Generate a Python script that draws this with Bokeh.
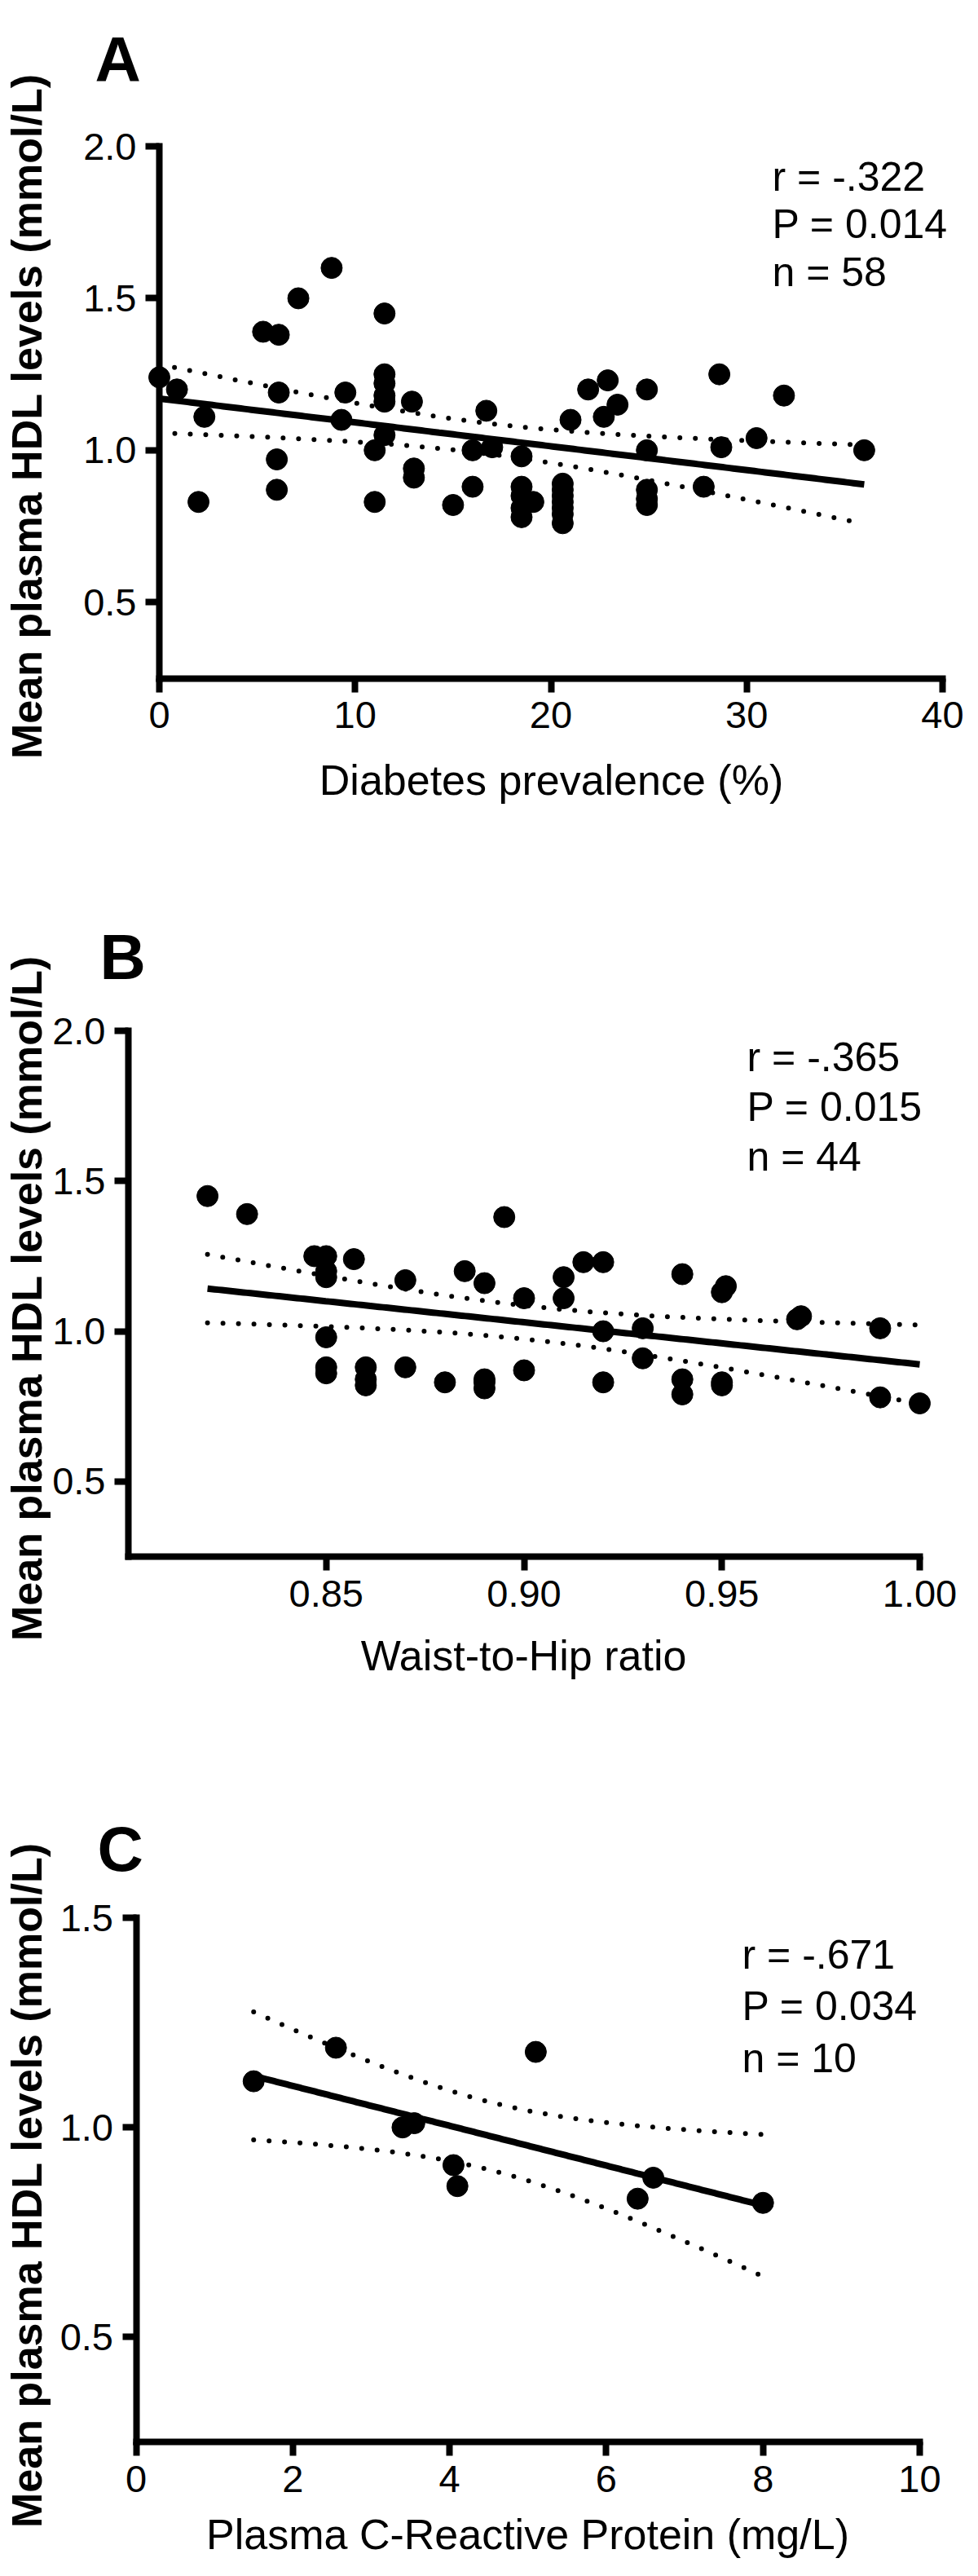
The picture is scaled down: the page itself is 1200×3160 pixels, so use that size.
import numpy as np
from bokeh.plotting import figure
from bokeh.layouts import column
from bokeh.models import Range1d, FixedTicker, PrintfTickFormatter, Label
from bokeh.embed import file_html
from bokeh.resources import INLINE

FONT = "Liberation Sans"

# ---------------- data ----------------
# Panel A: diabetes prevalence (%) vs HDL
a_x = [0.0, 0.9, 2.0, 2.3, 5.3, 6.1, 6.1, 6.0, 6.0, 7.1, 8.8, 9.3, 9.5,
       11.0, 11.0, 11.5, 11.5, 11.5, 11.5, 11.5, 11.5, 12.9, 13.0, 13.0,
       15.0, 16.0, 16.0, 16.7, 17.0, 18.5, 18.5, 18.5, 18.5, 18.5, 19.1,
       20.6, 20.6, 20.6, 20.6, 20.6, 20.6, 20.6, 21.0, 21.9, 22.7, 22.9,
       23.4, 24.9, 24.9, 24.9, 24.9, 24.9, 27.8, 28.6, 28.7, 30.5, 31.9, 36.0]
a_y = [1.24, 1.20, 0.83, 1.11, 1.39, 1.38, 1.19, 0.97, 0.87, 1.50, 1.60,
       1.10, 1.19, 1.00, 0.83, 1.45, 1.25, 1.22, 1.18, 1.16, 1.05, 1.16,
       0.94, 0.91, 0.82, 1.00, 0.88, 1.13, 1.01, 0.98, 0.88, 0.85, 0.81,
       0.78, 0.83, 0.89, 0.87, 0.85, 0.83, 0.81, 0.79, 0.76, 1.10, 1.20,
       1.11, 1.23, 1.15, 1.20, 1.00, 0.87, 0.84, 0.82, 0.88, 1.25, 1.01,
       1.04, 1.18, 1.00]

# Panel B: waist-to-hip ratio vs HDL
b_x = [0.82, 0.83, 0.847, 0.85, 0.85, 0.85, 0.85, 0.85, 0.85, 0.857, 0.86,
       0.86, 0.86, 0.87, 0.87, 0.88, 0.885, 0.89, 0.89, 0.89, 0.89, 0.895,
       0.90, 0.90, 0.91, 0.91, 0.915, 0.92, 0.92, 0.92, 0.93, 0.93, 0.94,
       0.94, 0.94, 0.95, 0.951, 0.95, 0.95, 0.969, 0.97, 0.99, 0.99, 1.00]
b_y = [1.45, 1.39, 1.25, 1.25, 1.18, 1.20, 0.98, 0.88, 0.86, 1.24, 0.88,
       0.82, 0.84, 1.17, 0.88, 0.83, 1.20, 1.16, 0.84, 0.81, 0.83, 1.38,
       1.11, 0.87, 1.18, 1.11, 1.23, 1.23, 1.00, 0.83, 1.01, 0.91, 1.19,
       0.84, 0.79, 1.13, 1.15, 0.82, 0.83, 1.04, 1.05, 1.01, 0.78, 0.76]

# Panel C: plasma CRP vs HDL
c_x = [1.5, 2.55, 3.4, 3.55, 4.05, 4.1, 5.1, 6.4, 6.6, 8.0]
c_y = [1.11, 1.19, 1.00, 1.01, 0.91, 0.86, 1.18, 0.83, 0.88, 0.82]

# axes / ticks / texts
a_xbounds = (0, 40)
b_xbounds = (0.80, 1.00)
c_xbounds = (0, 10)
ab_ybounds = (0.25, 2.0)
c_ybounds = (0.25, 1.5)

a_xticks = [0, 10, 20, 30, 40]
b_xticks = [0.85, 0.90, 0.95, 1.00]
c_xticks = [0, 2, 4, 6, 8, 10]
ab_yticks = [0.5, 1.0, 1.5, 2.0]
c_yticks = [0.5, 1.0, 1.5]

y_title = "Mean plasma HDL levels (mmol/L)"
a_xtitle = "Diabetes prevalence (%)"
b_xtitle = "Waist-to-Hip ratio"
c_xtitle = "Plasma C-Reactive Protein (mg/L)"

a_stats = ["r = -.322", "P = 0.014", "n = 58"]
b_stats = ["r = -.365", "P = 0.015", "n = 44"]
c_stats = ["r = -.671", "P = 0.034", "n = 10"]

# two-sided 95% t critical values by degrees of freedom
t_crit = {56: 2.0032, 42: 2.0181, 8: 2.3060}


def fit_band(x, y):
    x = np.asarray(x, float)
    y = np.asarray(y, float)
    n = len(x)
    slope, intercept = np.polyfit(x, y, 1)
    xs = np.linspace(x.min(), x.max(), 200)
    yh = intercept + slope * xs
    res = y - (intercept + slope * x)
    s = np.sqrt((res ** 2).sum() / (n - 2))
    sxx = ((x - x.mean()) ** 2).sum()
    half = t_crit[n - 2] * s * np.sqrt(1.0 / n + (xs - x.mean()) ** 2 / sxx)
    return xs, yh, yh - half, yh + half


def mapper(d0, d1, p0, p1):
    k = (d1 - d0) / (p1 - p0)
    return lambda px: d0 + (px - p0) * k


PAGE_L, PAGE_R = 8, 1192


def panel(x, y, xb, yb, xticks, yticks, xfmt, xtitle, stats, letter, L):
    # L: layout in page pixels
    fx = mapper(xb[0], xb[1], L["x0"], L["x1"])
    fy = mapper(yb[1], yb[0], L["ytop"], L["ybot"])
    p = figure(width=PAGE_R - PAGE_L, height=L["cb"] - L["ct"],
               x_range=Range1d(fx(PAGE_L), fx(PAGE_R)),
               y_range=Range1d(fy(L["cb"]), fy(L["ct"])),
               output_backend="svg", toolbar_location=None,
               min_border=0, min_border_left=0, min_border_right=0,
               min_border_top=0, min_border_bottom=0)
    p.outline_line_color = None
    p.grid.visible = False
    p.background_fill_color = "white"
    p.border_fill_color = "white"

    for ax in (p.xaxis[0], p.yaxis[0]):
        ax.axis_line_width = 8
        ax.axis_line_color = "black"
        ax.axis_line_cap = "square"
        ax.major_tick_line_width = 8
        ax.major_tick_line_color = "black"
        ax.major_tick_out = 17
        ax.major_tick_in = 0
        ax.minor_tick_out = 0
        ax.minor_tick_in = 0
        ax.major_label_text_font = FONT
        ax.major_label_text_font_size = "47px"
        ax.major_label_text_color = "black"

    xa, ya = p.xaxis[0], p.yaxis[0]
    xa.fixed_location = yb[0]
    xa.bounds = xb
    xa.ticker = FixedTicker(ticks=xticks)
    xa.formatter = PrintfTickFormatter(format=xfmt)
    xa.major_label_standoff = 12
    ya.fixed_location = xb[0]
    ya.bounds = yb
    ya.ticker = FixedTicker(ticks=yticks)
    ya.formatter = PrintfTickFormatter(format="%.1f")
    ya.major_label_standoff = 11

    xs, yh, lo, hi = fit_band(x, y)
    p.line(xs, hi, line_color="black", line_width=6, line_dash="0 19",
           line_cap="round")
    p.line(xs, lo, line_color="black", line_width=6, line_dash="0 19",
           line_cap="round")
    p.line(xs, yh, line_color="black", line_width=8)
    p.scatter(x, y, size=26, marker="circle", fill_color="black",
              line_color="black")

    for i, t in enumerate(stats):
        p.add_layout(Label(x=fx(L["sx"]), y=fy(L["sy"][i]), text=t,
                           text_font=FONT, text_font_size="50px",
                           text_color="black", text_baseline="middle",
                           text_align="left"))
    p.add_layout(Label(x=fx(L["lx"]), y=fy(L["ly"]), text=letter,
                       text_font=FONT, text_font_size="78px",
                       text_font_style="bold", text_color="black",
                       text_baseline="alphabetic", text_align="left"))
    p.add_layout(Label(x=fx(L["xtx"]), y=fy(L["xty"]), text=xtitle,
                       text_font=FONT, text_font_size="52px",
                       text_color="black", text_baseline="middle",
                       text_align="center"))
    p.add_layout(Label(x=fx(L["ytx"]), y=fy(L["yty"]), text=y_title,
                       angle=np.pi / 2, text_font=FONT,
                       text_font_size="52px", text_font_style="bold",
                       text_color="black", text_baseline="middle",
                       text_align="center"))
    return p


LA = dict(ct=8, cb=1080, x0=203, x1=1164, ytop=187, ybot=839.5,
          sx=955, sy=[224, 282, 341], lx=124, ly=80,
          xtx=684, xty=964, ytx=40, yty=518)
LB = dict(ct=1080, cb=2120, x0=165, x1=1136, ytop=1272, ybot=1917,
          sx=924, sy=[1304, 1365, 1426], lx=130, ly=1181,
          xtx=650, xty=2038, ytx=40, yty=1600)
LC = dict(ct=2120, cb=3152, x0=174.5, x1=1136, ytop=2360, ybot=3003,
          sx=918, sy=[2405, 2468, 2532], lx=127, ly=2275,
          xtx=655, xty=3116, ytx=40, yty=2688)

pa = panel(a_x, a_y, a_xbounds, ab_ybounds, a_xticks, ab_yticks, "%d",
           a_xtitle, a_stats, "A", LA)
pb = panel(b_x, b_y, b_xbounds, ab_ybounds, b_xticks, ab_yticks, "%.2f",
           b_xtitle, b_stats, "B", LB)
pc = panel(c_x, c_y, c_xbounds, c_ybounds, c_xticks, c_yticks, "%d",
           c_xtitle, c_stats, "C", LC)

layout = column(pa, pb, pc)
open("out.html", "w").write(file_html(layout, INLINE))
